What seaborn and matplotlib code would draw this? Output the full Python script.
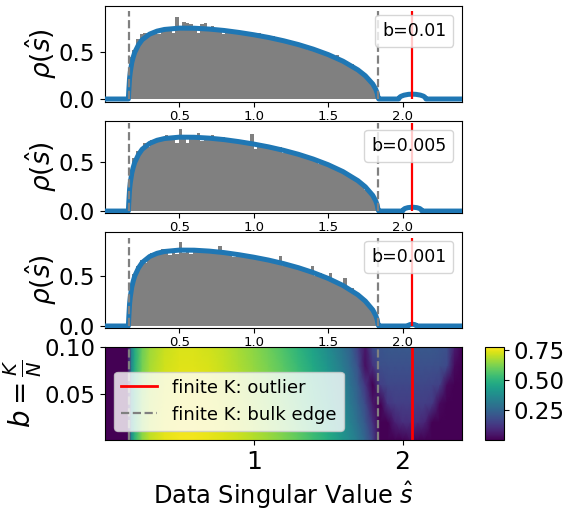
import numpy as np
import seaborn as sns
import matplotlib
matplotlib.use("Agg")
import matplotlib.pyplot as plt

# ---- data ----
b_labels = ["b=0.01", "b=0.005", "b=0.001"]

# histogram bins (width 0.024) and bar heights per panel
bin_edges = [0.16 + 0.024 * i for i in range(71)]
bin_centres = [0.172 + 0.024 * i for i in range(70)]

hist_b0010 = [0.45, 0.52, 0.64, 0.70, 0.71, 0.68, 0.72, 0.74, 0.70, 0.76,
              0.73, 0.77, 0.71, 0.88, 0.74, 0.82, 0.81, 0.80, 0.74, 0.71,
              0.80, 0.81, 0.76, 0.78, 0.74, 0.75, 0.70, 0.74, 0.71, 0.73,
              0.74, 0.71, 0.70, 0.72, 0.68, 0.69, 0.71, 0.66, 0.68, 0.65,
              0.67, 0.63, 0.64, 0.61, 0.63, 0.59, 0.61, 0.57, 0.58, 0.56,
              0.53, 0.55, 0.51, 0.52, 0.49, 0.47, 0.48, 0.43, 0.47, 0.40,
              0.41, 0.36, 0.37, 0.32, 0.31, 0.26, 0.24, 0.19, 0.15, 0.07]
hist_b0005 = [0.40, 0.55, 0.62, 0.64, 0.70, 0.66, 0.73, 0.72, 0.75, 0.73,
              0.78, 0.76, 0.74, 0.70, 0.84, 0.77, 0.70, 0.78, 0.76, 0.80,
              0.72, 0.77, 0.73, 0.78, 0.72, 0.74, 0.76, 0.71, 0.74, 0.70,
              0.72, 0.73, 0.69, 0.71, 0.79, 0.64, 0.69, 0.66, 0.67, 0.64,
              0.65, 0.62, 0.66, 0.60, 0.61, 0.62, 0.58, 0.59, 0.56, 0.58,
              0.53, 0.55, 0.52, 0.48, 0.50, 0.46, 0.47, 0.45, 0.42, 0.43,
              0.39, 0.37, 0.36, 0.31, 0.30, 0.28, 0.22, 0.21, 0.14, 0.08]
hist_b0001 = [0.38, 0.52, 0.60, 0.66, 0.63, 0.69, 0.73, 0.72, 0.75, 0.77,
              0.74, 0.71, 0.77, 0.72, 0.84, 0.73, 0.76, 0.72, 0.78, 0.74,
              0.77, 0.75, 0.73, 0.76, 0.74, 0.80, 0.72, 0.71, 0.74, 0.69,
              0.73, 0.71, 0.68, 0.72, 0.67, 0.70, 0.66, 0.69, 0.66, 0.65,
              0.64, 0.66, 0.70, 0.60, 0.63, 0.59, 0.61, 0.56, 0.59, 0.55,
              0.56, 0.60, 0.50, 0.53, 0.48, 0.50, 0.53, 0.43, 0.44, 0.43,
              0.48, 0.36, 0.38, 0.32, 0.31, 0.26, 0.25, 0.20, 0.15, 0.08]
hist_heights = [hist_b0010, hist_b0005, hist_b0001]

# theory density curve (bulk part, same for the three panels)
bulk_s = [0.0, 0.157, 0.16, 0.165, 0.17, 0.18, 0.19, 0.2, 0.225, 0.25, 0.3,
          0.35, 0.4, 0.5, 0.6, 0.7, 0.8, 0.9, 1.0, 1.1, 1.2, 1.3, 1.4, 1.5,
          1.6, 1.7, 1.75, 1.8, 1.82, 1.83, 1.835, 1.84]
bulk_rho = [0.0, 0.0, 0.09, 0.22, 0.29, 0.39, 0.45, 0.50, 0.58, 0.635, 0.695,
            0.727, 0.745, 0.759, 0.758, 0.749, 0.734, 0.713, 0.688, 0.659,
            0.624, 0.583, 0.534, 0.476, 0.405, 0.312, 0.249, 0.161, 0.105,
            0.061, 0.02, 0.0]

# outlier bump per panel
bump_s = [[1.974, 1.98, 1.99, 2.01, 2.04, 2.066, 2.09, 2.12, 2.14, 2.15, 2.158],
          [2.001, 2.006, 2.016, 2.036, 2.066, 2.096, 2.116, 2.126, 2.131],
          [2.038, 2.041, 2.05, 2.066, 2.082, 2.091, 2.094]]
bump_rho = [[0.0, 0.018, 0.029, 0.041, 0.05, 0.052, 0.05, 0.042, 0.031, 0.021, 0.0],
            [0.0, 0.015, 0.026, 0.035, 0.04, 0.035, 0.026, 0.015, 0.0],
            [0.0, 0.008, 0.014, 0.018, 0.014, 0.008, 0.0]]

vline_top = [0.94, 0.90, 0.877]
panel_ylim = [(-0.032, 0.996), (-0.02, 0.925), (-0.02, 0.94)]
bulk_edges = [0.159, 1.835]
outlier_pos = 2.066

# heatmap: density over (s, b)
hm_s = [0.0, 0.15, 0.16, 0.18, 0.2, 0.25, 0.3, 0.4, 0.5, 0.6, 0.7, 0.8, 0.9,
        1.0, 1.1, 1.2, 1.3, 1.4, 1.5, 1.6, 1.65, 1.7, 1.75, 1.8, 1.85, 1.9,
        1.95, 2.0, 2.05, 2.1, 2.15, 2.2, 2.25, 2.3, 2.35, 2.4]
hm_b = [0.001, 0.02, 0.04, 0.06, 0.08, 0.1]
rho_b0001 = [0, 0, 0.09, 0.39, 0.50, 0.64, 0.70, 0.745, 0.76, 0.76, 0.75, 0.735,
             0.715, 0.69, 0.66, 0.625, 0.585, 0.535, 0.48, 0.405, 0.365, 0.315,
             0.25, 0.16, 0, 0, 0, 0, 0.02, 0, 0, 0, 0, 0, 0, 0]
rho_b002 = [0, 0, 0.09, 0.385, 0.495, 0.635, 0.695, 0.74, 0.755, 0.755, 0.745,
            0.728, 0.706, 0.68, 0.65, 0.613, 0.57, 0.518, 0.46, 0.38, 0.335, 0.28,
            0.21, 0.11, 0, 0, 0.07, 0.10, 0.10, 0.10, 0.08, 0, 0, 0, 0, 0]
rho_b004 = [0, 0, 0.085, 0.38, 0.49, 0.63, 0.69, 0.735, 0.75, 0.75, 0.74, 0.72,
            0.698, 0.67, 0.638, 0.60, 0.555, 0.50, 0.44, 0.36, 0.31, 0.25, 0.175,
            0.05, 0, 0.12, 0.14, 0.14, 0.14, 0.14, 0.14, 0.13, 0.02, 0, 0, 0]
rho_b006 = [0, 0, 0.085, 0.375, 0.485, 0.62, 0.68, 0.725, 0.745, 0.745, 0.733,
            0.713, 0.69, 0.66, 0.627, 0.587, 0.54, 0.485, 0.42, 0.34, 0.29, 0.225,
            0.12, 0, 0.14, 0.165, 0.165, 0.165, 0.165, 0.165, 0.165, 0.16, 0.15,
            0.02, 0, 0]
rho_b008 = [0, 0, 0.08, 0.37, 0.48, 0.61, 0.67, 0.718, 0.738, 0.738, 0.727,
            0.706, 0.68, 0.65, 0.615, 0.573, 0.523, 0.465, 0.40, 0.315, 0.265,
            0.19, 0.03, 0.11, 0.185, 0.19, 0.19, 0.19, 0.19, 0.19, 0.19, 0.19,
            0.185, 0.17, 0.02, 0]
rho_b010 = [0, 0, 0.08, 0.36, 0.47, 0.60, 0.66, 0.71, 0.73, 0.73, 0.72, 0.70,
            0.67, 0.64, 0.60, 0.555, 0.50, 0.44, 0.37, 0.29, 0.24, 0.14, 0.04,
            0.18, 0.2, 0.21, 0.21, 0.21, 0.21, 0.21, 0.21, 0.21, 0.205, 0.19,
            0.06, 0]
hm_rows = [rho_b0001, rho_b002, rho_b004, rho_b006, rho_b008, rho_b010]

# ---- figure ----
W, H = 571, 515
fig = plt.figure(figsize=(W / 100, H / 100), dpi=100)


def box(l, t, r, b):
    return [l / W, (H - b) / H, (r - l) / W, (b - t) / H]


panel_boxes = [box(105, 6, 462, 102), box(105, 121, 462, 213), box(105, 232, 462, 328)]

for i in range(3):
    ax = fig.add_axes(panel_boxes[i])
    sns.histplot(x=bin_centres, weights=hist_heights[i], bins=bin_edges,
                 color="gray", alpha=1, linewidth=0, ax=ax)
    xs = bulk_s + bump_s[i] + [2.4]
    ys = bulk_rho + bump_rho[i] + [0.0]
    ax.plot(xs, ys, color="#1f77b4", lw=3.6, zorder=3)
    T = vline_top[i]
    ax.vlines(bulk_edges, 0, T, colors="gray", linestyles="--", lw=1.6, zorder=4)
    ax.vlines([outlier_pos], 0, T, colors="red", lw=1.6, zorder=4)
    ax.set_xlim(0, 2.4)
    ax.set_ylim(*panel_ylim[i])
    ax.set_yticks([0, 0.5])
    ax.set_yticklabels(["0.0", "0.5"])
    ax.set_xticks([0.5, 1.0, 1.5, 2.0])
    ax.tick_params(axis="x", labelsize=9.5, pad=2)
    ax.tick_params(axis="y", labelsize=16.5)
    ax.set_ylabel(r"$\rho(\hat{s})$", fontsize=19, labelpad=0)
    ax.legend([plt.Line2D([], [], alpha=0)], [b_labels[i]], loc="upper right",
              handlelength=0, handletextpad=0, fontsize=12.5)

# heatmap
axh = fig.add_axes(box(105, 347, 462, 440))
mesh = axh.pcolormesh(hm_s, hm_b, np.array(hm_rows), shading="gouraud",
                      cmap="viridis", vmin=0, vmax=0.775)
axh.axvline(outlier_pos, color="red", lw=2, label="finite K: outlier")
axh.axvline(bulk_edges[0], color="gray", ls="--", lw=1.6, label="finite K: bulk edge")
axh.axvline(bulk_edges[1], color="gray", ls="--", lw=1.6)
axh.set_xlim(0, 2.4)
axh.set_ylim(0.001, 0.1)
axh.set_xticks([1, 2])
axh.set_yticks([0.05, 0.10])
axh.tick_params(axis="x", labelsize=18)
axh.tick_params(axis="y", labelsize=16.5)
axh.set_ylabel(r"$b=\frac{K}{N}$", fontsize=20, labelpad=0)
axh.set_xlabel(r"Data Singular Value $\hat{s}$", fontsize=17.3)
axh.legend(loc="lower left", fontsize=13)

cax = fig.add_axes(box(485, 347, 504, 440))
cb = fig.colorbar(mesh, cax=cax, ticks=[0.25, 0.5, 0.75])
cb.ax.tick_params(labelsize=16.5)

fig.savefig("out.png", dpi=100)
